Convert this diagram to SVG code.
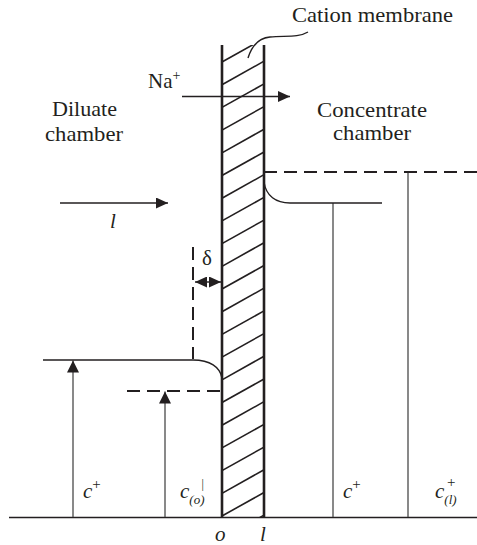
<svg xmlns="http://www.w3.org/2000/svg" width="477" height="545" viewBox="0 0 477 545">
<style>
text{font-family:"Liberation Serif","Times New Roman",serif;fill:#231f20;}
.lbl{font-size:21px;}
.it{font-style:italic;font-size:21px;}
.sub{font-size:13px;font-style:italic;}
.thin{stroke:#4a4a4a;stroke-width:1.3;fill:none;}
.blk{stroke:#231f20;stroke-width:1.4;fill:none;}
.dash{stroke:#231f20;stroke-width:2;fill:none;stroke-dasharray:13 7;}
.mem{stroke:#231f20;stroke-width:2.6;fill:none;}
.hatch{stroke:#231f20;stroke-width:1.6;}
</style>
<defs>
<marker id="ah" markerUnits="userSpaceOnUse" markerWidth="13" markerHeight="13" refX="12" refY="6.5" orient="auto-start-reverse" viewBox="0 0 13 13">
<path d="M0,0.5 L12,6.5 L0,12.5 z" fill="#231f20"/>
</marker>
<marker id="ahs" markerUnits="userSpaceOnUse" markerWidth="12" markerHeight="11" refX="12" refY="5.5" orient="auto-start-reverse" viewBox="0 0 12 11">
<path d="M0,0 L12,5.5 L0,11 z" fill="#231f20"/>
</marker>
<clipPath id="memclip"><rect x="222" y="45" width="42" height="472.5"/></clipPath>
</defs>

<g id="baseline">
<line x1="9" y1="517.5" x2="477" y2="517.5" class="blk"/>
</g>

<g id="membrane">
<g clip-path="url(#memclip)">
<line class="hatch" x1="222" y1="39.3" x2="264" y2="15.8"/>
<line class="hatch" x1="222" y1="62" x2="264" y2="38.5"/>
<line class="hatch" x1="222" y1="84.7" x2="264" y2="61.2"/>
<line class="hatch" x1="222" y1="107.4" x2="264" y2="83.9"/>
<line class="hatch" x1="222" y1="130.1" x2="264" y2="106.6"/>
<line class="hatch" x1="222" y1="152.8" x2="264" y2="129.3"/>
<line class="hatch" x1="222" y1="175.5" x2="264" y2="152"/>
<line class="hatch" x1="222" y1="198.2" x2="264" y2="174.7"/>
<line class="hatch" x1="222" y1="220.9" x2="264" y2="197.4"/>
<line class="hatch" x1="222" y1="243.6" x2="264" y2="220.1"/>
<line class="hatch" x1="222" y1="266.3" x2="264" y2="242.8"/>
<line class="hatch" x1="222" y1="289" x2="264" y2="265.5"/>
<line class="hatch" x1="222" y1="311.7" x2="264" y2="288.2"/>
<line class="hatch" x1="222" y1="334.4" x2="264" y2="310.9"/>
<line class="hatch" x1="222" y1="357.1" x2="264" y2="333.6"/>
<line class="hatch" x1="222" y1="379.8" x2="264" y2="356.3"/>
<line class="hatch" x1="222" y1="402.5" x2="264" y2="379"/>
<line class="hatch" x1="222" y1="425.2" x2="264" y2="401.7"/>
<line class="hatch" x1="222" y1="447.9" x2="264" y2="424.4"/>
<line class="hatch" x1="222" y1="470.6" x2="264" y2="447.1"/>
<line class="hatch" x1="222" y1="493.3" x2="264" y2="469.8"/>
<line class="hatch" x1="222" y1="516" x2="264" y2="492.5"/>
<line class="hatch" x1="222" y1="538.7" x2="264" y2="515.2"/>
</g>
<line class="mem" x1="222" y1="45" x2="222" y2="518"/>
<line class="mem" x1="264" y1="45" x2="264" y2="518"/>
</g>

<g id="membrane-label">
<path d="M248,58 C252,45 259,38 270,37 C285,35.5 298,38 308,32" class="blk" stroke-width="1.2"/>
<text class="lbl" x="292" y="22" textLength="161" lengthAdjust="spacingAndGlyphs">Cation membrane</text>
</g>

<g id="diluate-label">
<text class="lbl" x="52" y="116" textLength="65" lengthAdjust="spacingAndGlyphs">Diluate</text>
<text class="lbl" x="45" y="141" textLength="78" lengthAdjust="spacingAndGlyphs">chamber</text>
</g>

<g id="concentrate-label">
<text class="lbl" x="317" y="117" textLength="110" lengthAdjust="spacingAndGlyphs">Concentrate</text>
<text class="lbl" x="333" y="140" textLength="78" lengthAdjust="spacingAndGlyphs">chamber</text>
</g>

<g id="connectors">
<line x1="182" y1="96.5" x2="290" y2="96.5" class="blk" marker-end="url(#ahs)"/>
<line x1="60" y1="203" x2="168" y2="203" class="blk" marker-end="url(#ahs)"/>
<line x1="195" y1="282" x2="221" y2="282" class="blk" stroke-width="1.2" marker-start="url(#ahs)" marker-end="url(#ahs)"/>
<line x1="73" y1="517" x2="73" y2="360.5" class="thin" marker-end="url(#ah)"/>
<line x1="165" y1="517" x2="165" y2="391.5" class="thin" marker-end="url(#ah)"/>
<line x1="333" y1="203" x2="333" y2="517" class="thin"/>
<line x1="408" y1="172" x2="408" y2="517" class="thin"/>
</g>

<g id="profiles">
<path d="M43,360 L193,360 C210,360 220,367 222,378" class="blk"/>
<line x1="193" y1="247" x2="193" y2="359" class="dash" stroke-dasharray="12 8"/>
<line x1="127" y1="391" x2="222" y2="391" class="dash"/>
<path d="M264,182 C266,196 276,203 290,203 L382,203" class="blk"/>
<line x1="264" y1="172" x2="477" y2="172" class="dash"/>
</g>

<g id="labels">
<text class="lbl" x="148" y="88">Na<tspan font-size="14" dy="-8">+</tspan></text>
<text class="it" x="110" y="228">l</text>
<text class="lbl" x="202" y="265">δ</text>
<text class="it" x="83" y="498">c<tspan font-size="15" font-style="normal" dy="-9">+</tspan></text>
<text class="it" x="180" y="498">c<tspan class="sub" dy="6">(o)</tspan></text>
<text x="201.5" y="488" font-size="12">|</text>
<text class="it" x="343" y="498">c<tspan font-size="15" font-style="normal" dy="-9">+</tspan></text>
<text class="it" x="435" y="498">c<tspan class="sub" dy="6">(l)</tspan></text>
<text x="447" y="487" font-size="15">+</text>
<text class="it" x="215" y="541">o</text>
<text class="it" x="260" y="541">l</text>
</g>
</svg>
